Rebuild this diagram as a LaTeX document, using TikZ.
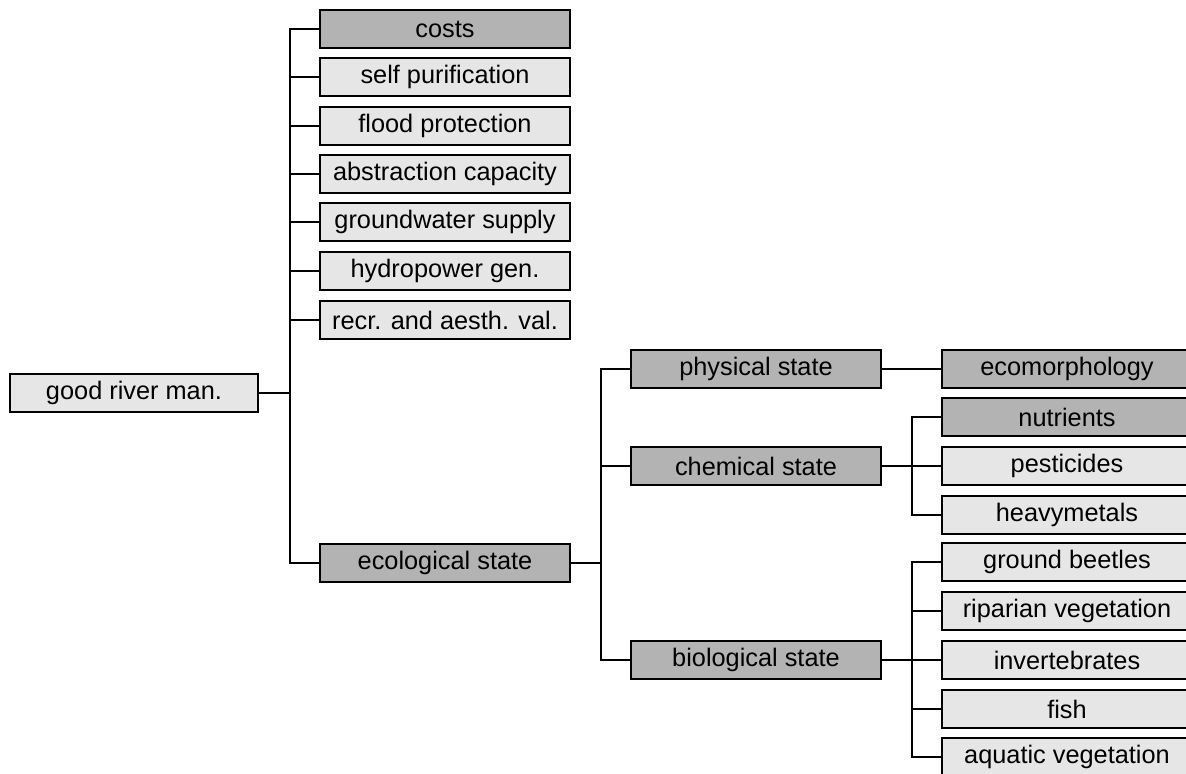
\documentclass[tikz,border=0pt]{standalone}
\usepackage{fontspec}
\setmainfont{Liberation Sans}
\definecolor{darkbox}{HTML}{B3B3B3}
\definecolor{lightbox}{HTML}{E6E6E6}
\begin{document}
\begin{tikzpicture}[x=0.75pt,y=-0.75pt,
  box/.style={draw=black,line width=1.3pt,minimum width=187.5pt,minimum height=28.5pt,inner sep=0pt,font=\fontsize{19}{21}\selectfont,anchor=center},
  dk/.style={box,fill=darkbox},
  lt/.style={box,fill=lightbox},
  conn/.style={draw=black,line width=1.2pt}]
\useasboundingbox (0,0) rectangle (1186,774);
\clip (0,0) rectangle (1186,774);
% column 1
\node[lt,minimum width=186pt] (root) at (134,393) {good river man.};
% column 2
\node[dk] (costs) at (445,29) {costs};
\node[lt] (self) at (445,77) {self purification};
\node[lt] (flood) at (445,126) {flood protection};
\node[lt] (abstr) at (445,174) {abstraction capacity};
\node[lt] (ground) at (445,222) {groundwater supply};
\node[lt] (hydro) at (445,271) {hydropower gen.};
\node[lt] (recr) at (445,320) {recr. and aesth. val.};
\node[dk] (eco) at (445,563) {ecological state};
% column 3
\node[dk] (phys) at (756,369) {physical state};
\node[dk] (chem) at (756,466) {chemical state};
\node[dk] (bio) at (756,660) {biological state};
% column 4
\node[dk] (morph) at (1067,369) {ecomorphology};
\node[dk] (nutr) at (1067,417) {nutrients};
\node[lt] (pest) at (1067,466) {pesticides};
\node[lt] (heavy) at (1067,515) {heavymetals};
\node[lt] (beet) at (1067,562) {ground beetles};
\node[lt] (ripa) at (1067,611) {riparian vegetation};
\node[lt] (inv) at (1067,660) {invertebrates};
\node[lt] (fish) at (1067,709) {fish};
\node[lt] (aqua) at (1067,757) {aquatic vegetation};
% connectors
\coordinate (j1) at (290,393);
\draw[conn] (root.east) -- (j1);
\foreach \n in {costs,self,flood,abstr,ground,hydro,recr,eco}
  \draw[conn] (j1) |- (\n.west);
\coordinate (j2) at (601,563);
\draw[conn] (eco.east) -- (j2);
\foreach \n in {phys,chem,bio}
  \draw[conn] (j2) |- (\n.west);
\draw[conn] (phys.east) -- (morph.west);
\coordinate (j3) at (912,466);
\draw[conn] (chem.east) -- (j3);
\foreach \n in {nutr,pest,heavy}
  \draw[conn] (j3) |- (\n.west);
\coordinate (j4) at (912,660);
\draw[conn] (bio.east) -- (j4);
\foreach \n in {beet,ripa,inv,fish,aqua}
  \draw[conn] (j4) |- (\n.west);
\end{tikzpicture}
\end{document}
